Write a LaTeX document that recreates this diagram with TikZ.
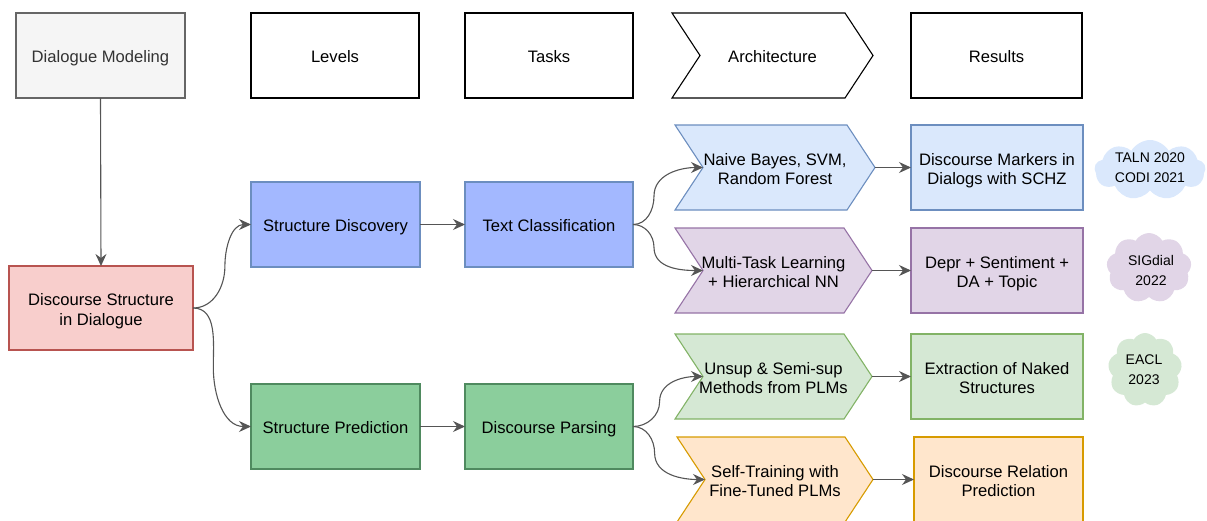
\documentclass[tikz,border=0pt]{standalone}
\usepackage{fontspec}
\setmainfont{Liberation Sans}
\usetikzlibrary{shapes.symbols,arrows.meta,calc}
\definecolor{grayfill}{HTML}{F5F5F5}
\definecolor{graystroke}{HTML}{666666}
\definecolor{graytext}{HTML}{333333}
\definecolor{redfill}{HTML}{F8CECC}
\definecolor{redstroke}{HTML}{B85450}
\definecolor{bluefill}{HTML}{A3B8FF}
\definecolor{bluestroke}{HTML}{6C8EBF}
\definecolor{greenfill}{HTML}{8BCE9C}
\definecolor{greenstroke}{HTML}{4F8A5F}
\definecolor{lbluefill}{HTML}{DAE8FC}
\definecolor{purplefill}{HTML}{E1D5E7}
\definecolor{purplestroke}{HTML}{9673A6}
\definecolor{lgreenfill}{HTML}{D5E8D4}
\definecolor{lgreenstroke}{HTML}{82B366}
\definecolor{orangefill}{HTML}{FFE6CC}
\definecolor{orangestroke}{HTML}{D79B00}
\definecolor{edgec}{HTML}{555555}
\newcommand{\mainfs}{\fontsize{16.6}{19.5}\selectfont}
\newcommand{\cloudfs}{\fontsize{14}{20}\selectfont}
\newcommand{\tb}[1]{\raisebox{-3.5pt}[\height][\depth]{\begin{tabular}{@{}c@{}}#1\end{tabular}}}
\newcommand{\mychev}[7]{%
  \draw[line width=1.1pt, fill=#5, draw=#6] (#2,#3) -- ++(#4-28,0) -- ++(28,42.5) -- ++(-28,42.5) -- ++(-#4+28,0) -- ++(28,-42.5) -- cycle;
  \node[font=\mainfs, align=center, inner sep=0pt] (#1) at (#2+#4/2,#3+42.5) {\tb{#7}};
  \coordinate (#1-in) at (#2+28,#3+42.5);
  \coordinate (#1-out) at (#2+#4,#3+42.5);
}
% #1 from, #2 to, #3 fraction for x of vertical tangent, #4 in angle at mid, #5 out angle at mid
\newcommand{\myconn}[5]{%
  \path ($(#1)!#3!(#2)$) coordinate (ma) ($(#1)!0.5!(#2)$) coordinate (mb);
  \draw[edge] (#1) to[out=0,in=#4] (ma |- mb) to[out=#5,in=180] (#2);
}
\tikzset{
  box/.style={draw, rectangle, line width=1.1pt, minimum height=85pt, align=center, font=\mainfs, inner sep=0pt, outer sep=0pt},
  edge/.style={draw=edgec, line width=1.1pt, -{Stealth[length=12pt,width=11pt,inset=4pt]}},
  cl/.style={cloud, cloud puffs=9, cloud puff arc=120, draw=none, inner sep=0pt},
  cltext/.style={font=\cloudfs, align=center, inner sep=0pt}
}
\begin{document}
\begin{tikzpicture}[x=1pt,y=-1pt]
\useasboundingbox (0,0) rectangle (1207,520);
% header row
\node[box, fill=grayfill, draw=graystroke, text=graytext, minimum width=169pt] (dm) at (100.5,55.5) {\tb{Dialogue Modeling}};
\node[box, fill=white, draw=black, minimum width=168pt] (lev) at (335,55.5) {\tb{Levels}};
\node[box, fill=white, draw=black, minimum width=168pt] (tasks) at (549,55.5) {\tb{Tasks}};
\mychev{arch}{672}{13}{201}{white}{black}{Architecture}
\node[box, fill=white, draw=black, minimum width=171pt] (res) at (996.5,55.5) {\tb{Results}};
% main boxes
\node[box, fill=redfill, draw=redstroke, minimum width=184pt, minimum height=84pt] (ds) at (101,308) {\tb{Discourse Structure\\in Dialogue}};
\node[box, fill=bluefill, draw=bluestroke, minimum width=169pt] (sd) at (335.5,224.5) {\tb{Structure Discovery}};
\node[box, fill=bluefill, draw=bluestroke, minimum width=168pt] (tc) at (549,224.5) {\tb{Text Classification}};
\node[box, fill=greenfill, draw=greenstroke, minimum width=169pt] (sp) at (335.5,426.5) {\tb{Structure Prediction}};
\node[box, fill=greenfill, draw=greenstroke, minimum width=168pt] (dp) at (549,426.5) {\tb{Discourse Parsing}};
% architecture chevrons
\mychev{nb}{675}{125}{200}{lbluefill}{bluestroke}{Naive Bayes, SVM,\\Random Forest}
\mychev{mt}{675}{228}{197}{purplefill}{purplestroke}{Multi-Task Learning\\+ Hierarchical NN}
\mychev{un}{675}{334}{197}{lgreenfill}{lgreenstroke}{Unsup \& Semi-sup\\Methods from PLMs}
\mychev{st}{677}{437}{196}{orangefill}{orangestroke}{Self-Training with\\Fine-Tuned PLMs}
% results
\node[box, fill=lbluefill, draw=bluestroke, minimum width=172pt] (dmk) at (997,167.5) {\tb{Discourse Markers in\\Dialogs with SCHZ}};
\node[box, fill=purplefill, draw=purplestroke, minimum width=172pt] (depr) at (997,270.5) {\tb{Depr + Sentiment +\\DA + Topic}};
\node[box, fill=lgreenfill, draw=lgreenstroke, minimum width=172pt] (ext) at (997,376.5) {\tb{Extraction of Naked\\Structures}};
\node[box, fill=orangefill, draw=orangestroke, minimum width=169pt] (drp) at (998.5,479.5) {\tb{Discourse Relation\\Prediction}};
% clouds
\node[cl, fill=lbluefill, minimum width=111pt, minimum height=60pt, aspect=1.85] (c1) at (1150,170) {};
\node[cltext] (c1t) at (1150,167.5) {TALN 2020\\CODI 2021};
\node[cl, fill=purplefill, minimum width=85pt, minimum height=70pt, aspect=1.21] (c2) at (1149,268) {};
\node[cltext] (c2t) at (1151,270) {SIGdial\\2022};
\node[cl, fill=lgreenfill, minimum width=74pt, minimum height=74pt, aspect=1] (c3) at (1145,370) {};
\node[cltext] (c3t) at (1144,369.5) {EACL\\2023};
% connectors
\draw[edge] (dm.south) -- (ds.north);
\myconn{ds.east}{sd.west}{0.55}{-90}{90}
\myconn{ds.east}{sp.west}{0.35}{90}{-90}
\draw[edge] (sd.east) -- (tc.west);
\draw[edge] (sp.east) -- (dp.west);
\myconn{tc.east}{nb-in}{0.3}{-90}{90}
\myconn{tc.east}{mt-in}{0.3}{90}{-90}
\myconn{dp.east}{un-in}{0.38}{-90}{90}
\myconn{dp.east}{st-in}{0.3}{90}{-90}
\draw[edge] (nb-out) -- (dmk.west);
\draw[edge] (mt-out) -- (depr.west);
\draw[edge] (un-out) -- (ext.west);
\draw[edge] (st-out) -- (drp.west);
\end{tikzpicture}
\end{document}
